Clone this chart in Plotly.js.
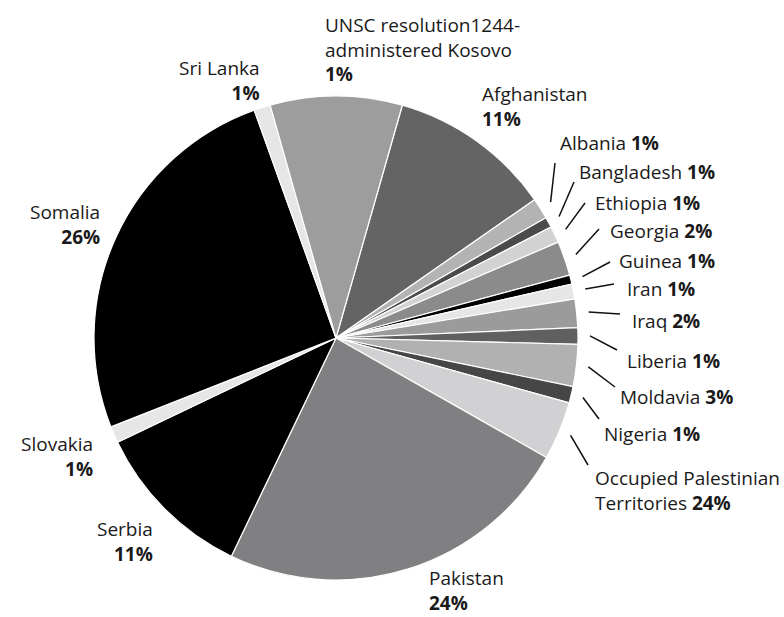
<!DOCTYPE html>
<html>
<head>
<meta charset="utf-8">
<script src="https://cdn.plot.ly/plotly-3.0.1.min.js"></script>
<style>
html,body{margin:0;padding:0;background:#fff;}
#chart{width:784px;height:617px;}
</style>
</head>
<body>
<div id="chart"></div>
<script>
// ---------- DATA ----------
const countries = [
  "Afghanistan","Albania","Bangladesh","Ethiopia","Georgia","Guinea","Iran","Iraq",
  "Liberia","Moldavia","Nigeria","Occupied Palestinian Territories","Pakistan",
  "Serbia","Slovakia","Somalia","Sri Lanka","UNSC resolution1244-administered Kosovo"
];
// slice sizes as drawn in the picture (share of the circle, %)
const sliceShares = [10.9,1.4,0.7,1.1,2.3,0.6,1.0,1.9,1.1,2.8,1.1,3.9,23.9,10.8,1.1,25.5,1.1,8.8];
// percentages printed on the labels
const labelPercents = [11,1,1,1,2,1,1,2,1,3,1,24,24,11,1,26,1,1];
// label names as typeset (line breaks)
const labelNames = [
  "Afghanistan","Albania","Bangladesh","Ethiopia","Georgia","Guinea","Iran","Iraq",
  "Liberia","Moldavia","Nigeria","Occupied Palestinian<br>Territories","Pakistan",
  "Serbia","Slovakia","Somalia","Sri Lanka","UNSC resolution1244-<br>administered Kosovo"
];

// ---------- STYLE ----------
const sliceColors = [
  "#646464","#b3b3b3","#4b4b4b","#d2d2d2","#8b8b8b","#000000","#e6e6e6","#9b9b9b",
  "#606060","#b1b1b1","#464646","#d1d1d3","#808082","#000000","#e6e6e6","#000000",
  "#e6e6e6","#9d9d9d"
];

// ---------- LAYOUT (pixels) ----------
const W = 784, H = 617;
const CX = 336, CY = 338, R = 242;       // pie centre / radius in px
const ROT = 15.9;                        // first slice start angle (deg clockwise from 12 o'clock)
const FONT = "Open Sans, Noto Sans, sans-serif";
const FS = 19;
// label placement: [x, y(centre of block), anchor, mode, lineEndX, lineEndY]
const labelPlace = [
  [480, 107, "left",  "stack"],
  [558, 142.5, "left", "inline", 555, 163],
  [576.5, 172.5, "left", "inline", 574, 182],
  [592.5, 202.5, "left", "inline", 585, 203],
  [607.5, 231, "left", "inline", 599, 229],
  [616.5, 261, "left", "inline", 610, 262],
  [624.5, 289, "left", "inline", 614, 284],
  [629.5, 321, "left", "inline", 620, 314],
  [624.5, 361, "left", "inline", 617, 350],
  [618, 397, "left", "inline", 615, 387],
  [602, 434, "left", "inline", 599, 419],
  [592.5, 490, "left", "stack2", 588, 465],
  [426.5, 590, "left", "stack"],
  [155, 541, "right", "stack"],
  [95, 456, "right", "stack"],
  [101.5, 224, "right", "stack"],
  [262, 80, "right", "stack"],
  [322.5, 49.5, "left", "stack"]
];

const px = x => x / W;
const py = y => 1 - y / H;

const total = sliceShares.reduce((a, b) => a + b, 0);
const annotations = [];
const shapes = [];
let cum = 0;
sliceShares.forEach((v, i) => {
  const mid = (ROT + 360 * (cum + v / 2) / total) * Math.PI / 180;
  cum += v;
  const p = labelPlace[i];
  const pct = "<b>" + labelPercents[i] + "%</b>";
  let txt;
  if (p[3] === "inline" || p[3] === "stack2") txt = labelNames[i] + " " + pct;
  else txt = labelNames[i] + "<br>" + pct;
  annotations.push({
    xref: "paper", yref: "paper", x: px(p[0]), y: py(p[1]),
    xanchor: p[2], yanchor: "middle", align: p[2], showarrow: false,
    text: txt, font: {family: FONT, size: FS, color: "#1a1a1a"}
  });
  if (p.length > 4) {
    const r0 = R + 12;
    const sx = CX + r0 * Math.sin(mid), sy = CY - r0 * Math.cos(mid);
    shapes.push({
      type: "line", xref: "paper", yref: "paper",
      x0: px(sx), y0: py(sy), x1: px(p[4]), y1: py(p[5]),
      line: {color: "#111", width: 1.5}
    });
  }
});

const trace = {
  type: "pie",
  labels: countries,
  values: sliceShares,
  sort: false,
  direction: "clockwise",
  rotation: ROT,
  textinfo: "none",
  hoverinfo: "label+percent",
  showlegend: false,
  marker: {colors: sliceColors, line: {color: "#ffffff", width: 1.2}},
  domain: {x: [px(CX - R), px(CX + R)], y: [py(CY + R), py(CY - R)]}
};

const layout = {
  width: W, height: H,
  margin: {l: 0, r: 0, t: 0, b: 0},
  paper_bgcolor: "#ffffff",
  showlegend: false,
  annotations: annotations,
  shapes: shapes
};

Plotly.newPlot("chart", [trace], layout, {displayModeBar: false, staticPlot: true});
</script>
</body>
</html>
